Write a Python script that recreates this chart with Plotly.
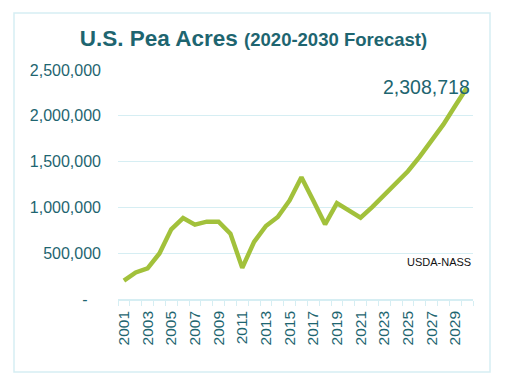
import plotly.graph_objects as go

years = list(range(2001, 2031))
acres = [200000, 290000, 334000, 497000, 761000, 884000, 812000, 844000, 844000, 714000,
         340000, 623000, 797000, 895000, 1076000, 1330000, 1076000, 815000, 1047000, 967000,
         888000, 1005000, 1130000, 1258000, 1395000, 1554000, 1725000, 1906000, 2109000, 2308718]
ytick_vals = [0, 500000, 1000000, 1500000, 2000000, 2500000]
ytick_text = ["-\u00a0\u00a0\u00a0", "500,000", "1,000,000", "1,500,000", "2,000,000", "2,500,000"]
xtick_vals = list(range(2001, 2030, 2))
last_label = "2,308,718"
source = "USDA-NASS"

TEAL = "#1E6570"
GRID = "#D6EEF3"
FONT = "Liberation Sans, Arial, sans-serif"

fig = go.Figure()
fig.add_trace(go.Scatter(x=years, y=acres, mode="lines",
                         line=dict(color="#A2C13B", width=4.5), hoverinfo="skip"))

fig.update_layout(
    width=507, height=386,
    margin=dict(l=118, r=34, t=70, b=87),
    paper_bgcolor="white", plot_bgcolor="white",
    showlegend=False,
    font=dict(family=FONT, color=TEAL),
    title=dict(
        text="<b>U.S. Pea Acres</b> <b><span style='font-size:18.5px'>(2020-2030 Forecast)</span></b>",
        x=0.5, xanchor="center", xref="container",
        y=1 - 38 / 386, yanchor="middle",
        font=dict(size=22.5, color=TEAL, family=FONT),
    ),
    xaxis=dict(
        range=[2000.5, 2030.5], tickvals=xtick_vals, ticktext=[str(v) for v in xtick_vals],
        tickangle=-90, tickfont=dict(size=15.5, color=TEAL),
        showgrid=False, zeroline=False,
        showline=True, linecolor=GRID, linewidth=1.5,
        ticks="outside", ticklen=0, tickcolor=GRID,
        minor=dict(tick0=2000.5, dtick=1, ticks="outside", ticklen=5, tickcolor=GRID, showgrid=False),
        ticklabelstandoff=4,
    ),
    yaxis=dict(
        range=[0, 2500000], tickvals=ytick_vals, ticktext=ytick_text,
        tickfont=dict(size=16, color=TEAL),
        showgrid=True, gridcolor=GRID, gridwidth=1,
        zeroline=False, showline=False, ticks="",
        ticklabelstandoff=16,
    ),
    shapes=[dict(type="rect", xref="paper", yref="paper",
                 x0=(14 - 118) / 355, x1=(490 - 118) / 355,
                 y0=(299 - 372) / 229, y1=(299 - 13) / 229,
                 line=dict(color=GRID, width=1.5), fillcolor="rgba(0,0,0,0)", layer="below")],
    annotations=[
        dict(x=years[-1], y=acres[-1], xref="x", yref="y", text=last_label,
             showarrow=False, xanchor="right", yanchor="middle", xshift=5, yshift=1,
             font=dict(size=19.5, color=TEAL, family=FONT)),
        dict(x=1.0, y=(299 - 262) / 229, xref="paper", yref="paper", text=source,
             showarrow=False, xanchor="right", yanchor="middle",
             font=dict(size=11, color="#111111", family=FONT)),
    ],
)

fig.write_html("out.html", config={"displayModeBar": False},
               post_script="document.body.style.margin='0px';document.body.style.padding='0px';")
